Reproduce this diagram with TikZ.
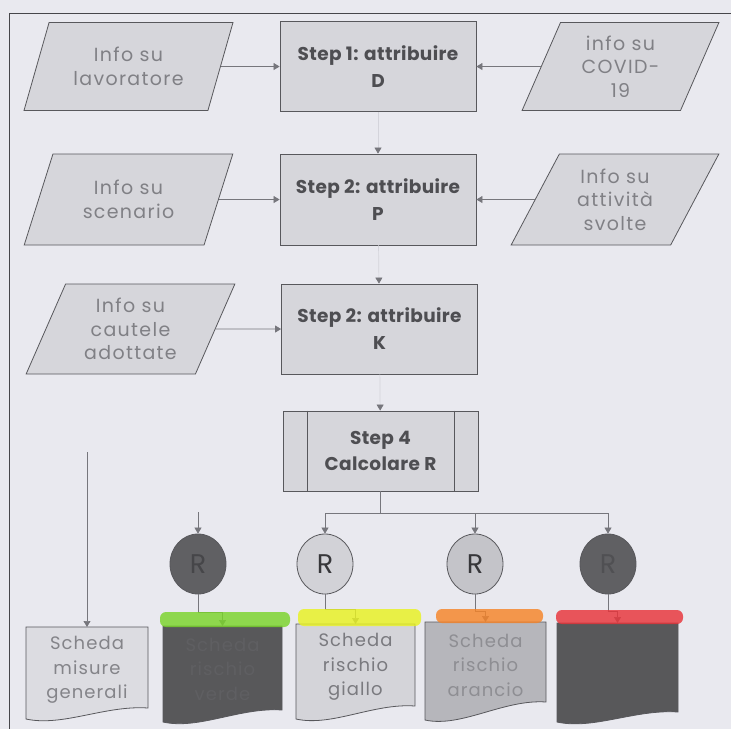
\documentclass[tikz,border=0pt]{standalone}
\usepackage{fontspec}
\setmainfont{Poppins}
\newfontfamily\infofont[LetterSpace=7]{Poppins}
\newfontfamily\docfont[LetterSpace=6]{Poppins}
\newfontfamily\stepfont[LetterSpace=2]{Poppins}
\usetikzlibrary{shapes.geometric,arrows.meta}
\definecolor{bg}{RGB}{233,233,239}
\definecolor{shapefill}{RGB}{214,214,219}
\definecolor{edge}{RGB}{88,88,92}
\definecolor{infotext}{RGB}{128,128,133}
\definecolor{steptext}{RGB}{78,78,82}
\definecolor{conn}{RGB}{118,118,124}
\definecolor{faint}{RGB}{212,212,219}
\definecolor{framecol}{RGB}{70,70,74}
\definecolor{darkfill}{RGB}{96,96,99}
\definecolor{docdark}{RGB}{88,88,90}
\definecolor{doclight}{RGB}{220,220,225}
\definecolor{docgiallo}{RGB}{212,212,217}
\definecolor{docarancio}{RGB}{182,182,187}
\definecolor{circlight}{RGB}{210,210,215}
\definecolor{circmid}{RGB}{196,196,201}
\definecolor{hlgreen}{RGB}{122,212,42}
\definecolor{hlyellow}{RGB}{232,242,34}
\definecolor{hlorange}{RGB}{246,132,40}
\definecolor{hlred}{RGB}{232,52,58}
\newcommand\docshape[6]{%
  \filldraw[fill=#6, draw=edge, line width=0.8pt]
    (#1,#3) -- (#2,#3) -- (#2,#5)
    .. controls ({#1+0.65*(#2-#1)},#5-3) and ({#1+0.3*(#2-#1)},#4+8) .. (#1,#4) -- cycle;}
\begin{document}
\begin{tikzpicture}[x=1pt,y=-1pt,
  infobox/.style={trapezium, trapezium stretches=true,
    minimum height=88pt, inner sep=0pt, fill=shapefill, draw=edge, line width=0.8pt,
    text=infotext, font=\infofont\fontsize{19}{23.5}\selectfont, align=center},
  stepbox/.style={rectangle, fill=shapefill, draw=edge, line width=0.8pt,
    minimum width=196pt, minimum height=90pt, inner sep=0pt,
    text=steptext, font=\stepfont\bfseries\fontsize{18.5}{27}\selectfont, align=center},
  rcirc/.style={ellipse, minimum width=56pt, minimum height=60pt, inner sep=0pt,
    draw=edge, line width=0.8pt, font=\fontsize{27}{30}\selectfont},
  doctext/.style={rectangle, minimum width=120pt, minimum height=86pt, inner sep=0pt,
    anchor=north, align=center, font=\docfont\fontsize{18}{24.5}\selectfont},
  arrow/.style={draw=conn, line width=0.7pt, -{Triangle[length=6pt,width=7pt,color=conn]}},
  faintarrow/.style={draw=faint, line width=0.7pt, -{Triangle[length=6pt,width=7pt,color=conn]}},
  line/.style={draw=conn, line width=0.7pt},
  band/.style={rounded corners=6pt, opacity=0.82}]
\fill[bg] (0,0) rectangle (731,729);
\useasboundingbox (0,0) rectangle (731,729);
\draw[framecol, line width=1pt] (731,13) -- (9,13) -- (9,729);

% row 1
\node[infobox, minimum width=209pt, trapezium left angle=65.5, trapezium right angle=114.5] (p1) at (128.5,66.5) {Info su\\lavoratore};
\node[stepbox] (s1) at (378,66.5) {Step 1: attribuire\\D};
\node[infobox, minimum width=197pt, trapezium left angle=68, trapezium right angle=112] (r1) at (620.5,66.5) {info su\\COVID-\\19};
% row 2
\node[infobox, minimum width=209pt, minimum height=91pt, trapezium left angle=65.5, trapezium right angle=114.5] (p2) at (128.5,199.5) {Info su\\scenario};
\node[stepbox, minimum height=91pt] (s2) at (378,199.5) {Step 2: attribuire\\P};
\node[infobox, minimum width=208pt, minimum height=91pt, trapezium left angle=62, trapezium right angle=118] (r2) at (615,199.5) {Info su\\attività\\svolte};
% row 3
\node[infobox, minimum width=209pt, minimum height=90pt, trapezium left angle=65.5, trapezium right angle=114.5] (p3) at (130.5,329) {Info su\\cautele\\adottate};
\node[stepbox] (s3) at (379.5,329) {Step 2: attribuire\\K};
% step 4
\node[stepbox, minimum width=195pt, minimum height=80pt, font=\stepfont\bfseries\fontsize{18.5}{26}\selectfont] (s4) at (380.5,451) {Step 4\\Calcolare R};
\draw[edge, line width=0.8pt] ([xshift=25pt]s4.north west) -- ([xshift=25pt]s4.south west);
\draw[edge, line width=0.8pt] ([xshift=-24pt]s4.north east) -- ([xshift=-24pt]s4.south east);

% connectors rows
\draw[arrow] (p1) -- (s1);
\draw[arrow] (r1) -- (s1);
\draw[arrow] (p2) -- (s2);
\draw[arrow] (r2) -- (s2);
\draw[arrow] (p3) -- (s3);
\draw[faintarrow] (s1) -- (s2);
\draw[faintarrow] (s2) -- (s3);
\draw[faintarrow] (s3) -- (s4);

% circles
\node[rcirc, fill=darkfill, text={rgb,255:red,70;green,70;blue,73}] (c1) at (198,564) {R};
\node[rcirc, fill=circlight, text={rgb,255:red,55;green,55;blue,58}] (c2) at (325,564) {R};
\node[rcirc, fill=circmid, text={rgb,255:red,55;green,55;blue,58}] (c3) at (475,564) {R};
\node[rcirc, fill=darkfill, text={rgb,255:red,80;green,80;blue,83}] (c4) at (608,564) {R};

% bus
\coordinate (bus) at (380.5,513);
\draw[line] (s4) -- (bus);
\draw[line] (c2 |- bus) -- (c4 |- bus);
\draw[arrow] (c2 |- bus) -- (c2);
\draw[arrow] (c3 |- bus) -- (c3);
\draw[arrow] (c4 |- bus) -- (c4);
\coordinate (c1in) at (198,512);
\draw[arrow] (c1in) -- (c1);

% documents
\docshape{26}{148}{627}{719}{708}{doclight}
\docshape{163}{282}{626}{722}{710}{docdark}
\docshape{296}{415}{624}{719}{706}{docgiallo}
\docshape{425}{546}{622}{720}{702}{docarancio}
\docshape{557}{678}{623}{722}{712}{docdark}
\node[doctext, text={rgb,255:red,132;green,132;blue,137}] (d1) at (87,627) {Scheda\\misure\\generali};
\node[doctext, text={rgb,255:red,95;green,95;blue,98}] (d2) at (222.5,626) {Scheda\\rischio\\verde};
\node[doctext, text={rgb,255:red,122;green,122;blue,127}] (d3) at (355.5,624) {Scheda\\rischio\\giallo};
\node[doctext, text={rgb,255:red,142;green,142;blue,147}] (d4) at (485.5,622) {Scheda\\rischio\\arancio};
\node[doctext] (d5) at (617.5,623) {};

\coordinate (lstart) at (87,452);
\draw[arrow] (lstart) -- (d1);
\draw[arrow] (c1.south) -- ++(0,18) -| (d2.north);
\draw[arrow] (c2.south) -- ++(0,15) -| (d3.north);
\draw[arrow] (c3.south) -- ++(0,17) -| (d4.north);
\draw[arrow] (c4.south) -- ++(0,17) -| (d5.north);

% highlighter bands
\fill[hlgreen, band] (160,612) rectangle (290,627);
\fill[hlyellow, band] (298,609) rectangle (421,626);
\fill[hlorange, band] (436,609) rectangle (543,623);
\fill[hlred, band] (556,610) rectangle (683,624);
\end{tikzpicture}
\end{document}
